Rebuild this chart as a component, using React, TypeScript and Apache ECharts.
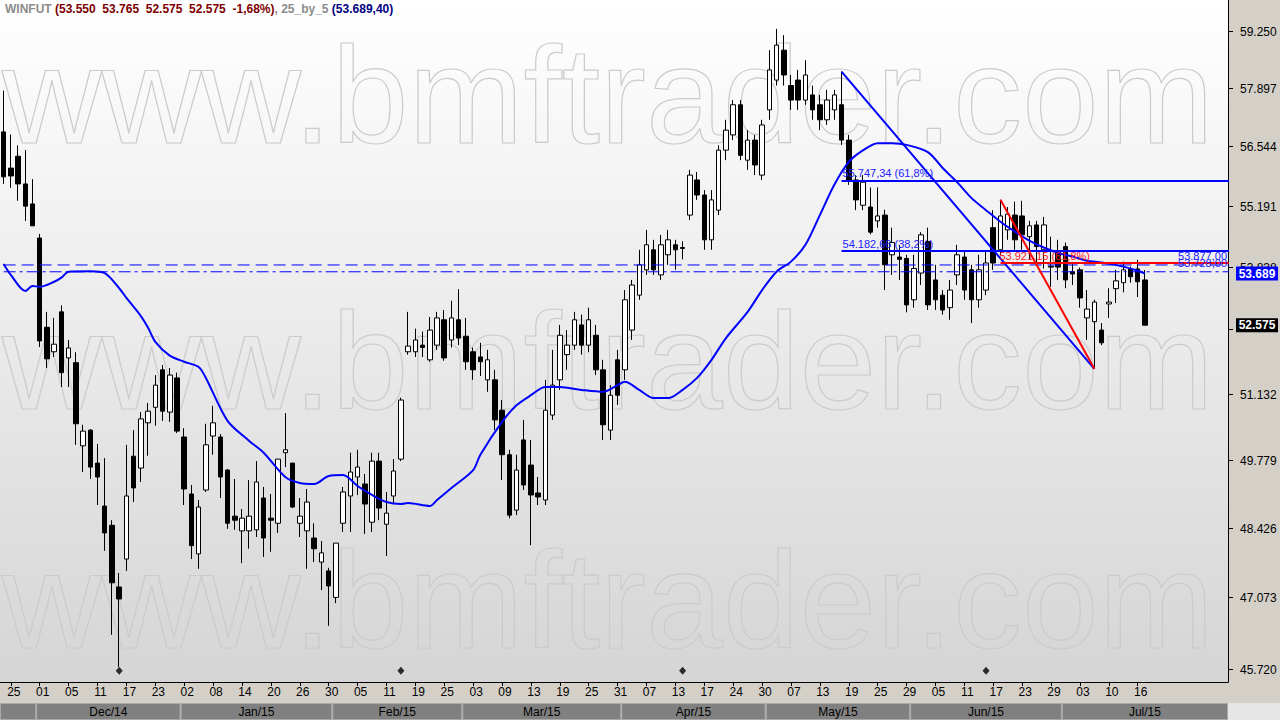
import { useEffect, useRef } from 'react';
import * as echarts from 'echarts';

const FONT = '"Liberation Sans", Arial, sans-serif';

// trading days (Nov 24, 2014 .. Jul 17, 2015)
const dates: string[] = [
  '2014-11-24','2014-11-25','2014-11-26','2014-11-27','2014-11-28',
  '2014-12-01','2014-12-02','2014-12-03','2014-12-04','2014-12-05',
  '2014-12-08','2014-12-09','2014-12-10','2014-12-11','2014-12-12',
  '2014-12-15','2014-12-16','2014-12-17','2014-12-18','2014-12-19',
  '2014-12-22','2014-12-23','2014-12-26','2014-12-29','2014-12-30',
  '2015-01-02','2015-01-05','2015-01-06','2015-01-07','2015-01-08','2015-01-09',
  '2015-01-12','2015-01-13','2015-01-14','2015-01-15','2015-01-16',
  '2015-01-19','2015-01-20','2015-01-21','2015-01-22','2015-01-23',
  '2015-01-26','2015-01-27','2015-01-28','2015-01-29','2015-01-30',
  '2015-02-02','2015-02-03','2015-02-04','2015-02-05','2015-02-06',
  '2015-02-09','2015-02-10','2015-02-11','2015-02-12','2015-02-13',
  '2015-02-18','2015-02-19','2015-02-20',
  '2015-02-23','2015-02-24','2015-02-25','2015-02-26','2015-02-27',
  '2015-03-02','2015-03-03','2015-03-04','2015-03-05','2015-03-06',
  '2015-03-09','2015-03-10','2015-03-11','2015-03-12','2015-03-13',
  '2015-03-16','2015-03-17','2015-03-18','2015-03-19','2015-03-20',
  '2015-03-23','2015-03-24','2015-03-25','2015-03-26','2015-03-27',
  '2015-03-30','2015-03-31',
  '2015-04-01','2015-04-02','2015-04-06','2015-04-07','2015-04-08','2015-04-09','2015-04-10',
  '2015-04-13','2015-04-14','2015-04-15','2015-04-16','2015-04-17',
  '2015-04-20','2015-04-22','2015-04-23','2015-04-24',
  '2015-04-27','2015-04-28','2015-04-29','2015-04-30',
  '2015-05-04','2015-05-05','2015-05-06','2015-05-07','2015-05-08',
  '2015-05-11','2015-05-12','2015-05-13','2015-05-14','2015-05-15',
  '2015-05-18','2015-05-19','2015-05-20','2015-05-21','2015-05-22',
  '2015-05-25','2015-05-26','2015-05-27','2015-05-28','2015-05-29',
  '2015-06-01','2015-06-02','2015-06-03','2015-06-05',
  '2015-06-08','2015-06-09','2015-06-10','2015-06-11','2015-06-12',
  '2015-06-15','2015-06-16','2015-06-17','2015-06-18','2015-06-19',
  '2015-06-22','2015-06-23','2015-06-24','2015-06-25','2015-06-26',
  '2015-06-29','2015-06-30',
  '2015-07-01','2015-07-02','2015-07-03','2015-07-06','2015-07-07','2015-07-08','2015-07-10',
  '2015-07-13','2015-07-14','2015-07-15','2015-07-16','2015-07-17',
];

const opens = [
  56.87,56.04,56.31,55.68,55.23,54.47,52.53,52.01,52.86,51.88,
  51.78,50.06,50.38,49.71,48.85,48.47,47.27,47.81,49.85,49.61,
  50.53,50.85,51.63,50.75,51.46,50.24,49.09,47.91,49.17,50.26,
  50.24,49.57,48.65,48.36,48.36,48.38,49.01,48.61,48.51,49.92,
  49.71,48.51,48.36,48.22,47.75,47.58,47.07,48.51,49.05,49.43,
  49.29,48.53,49.75,48.49,49.05,49.79,52.01,52.01,52.15,51.84,
  52.15,52.69,52.26,52.69,52.34,52.01,51.90,51.42,51.42,50.79,
  49.88,48.77,50.18,49.67,49.11,48.97,50.69,51.42,51.95,52.15,
  52.58,52.15,52.36,51.63,50.38,51.84,51.63,52.47,53.22,53.77,
  54.21,53.66,54.10,54.32,54.26,54.98,55.77,55.43,54.43,55.09,
  56.45,56.80,57.50,56.22,56.68,55.88,57.38,58.08,58.79,57.95,
  58.08,57.61,57.73,57.50,57.15,57.38,57.50,56.68,55.77,55.20,
  55.16,54.85,54.98,54.10,54.05,54.02,53.12,53.70,54.39,53.55,
  53.22,52.95,53.66,54.05,53.77,53.12,53.33,54.70,54.21,54.65,
  54.98,54.96,54.50,54.76,54.21,53.85,54.17,54.28,53.73,53.77,
  52.73,52.65,52.47,53.03,53.36,53.49,53.79,53.79,53.55,
];
const highs = [
  57.83,56.81,56.56,56.45,55.79,54.56,52.86,52.73,53.00,52.26,
  52.00,50.49,50.40,50.10,49.81,48.57,47.54,50.08,50.38,50.75,
  50.94,51.52,51.73,51.67,51.57,50.42,49.27,48.97,50.51,50.88,
  50.30,49.59,49.39,48.79,49.37,49.75,49.23,49.09,49.79,50.73,
  49.71,49.01,49.19,48.51,48.16,47.64,48.12,49.23,49.92,49.98,
  49.49,49.92,49.92,49.13,49.79,51.05,52.86,52.50,52.44,52.75,
  52.86,52.90,53.10,53.35,52.73,52.10,52.20,52.05,51.63,51.00,
  49.98,49.88,50.59,50.18,49.43,51.42,52.05,52.58,52.47,52.86,
  52.80,52.95,52.58,51.84,51.31,52.05,53.33,53.55,54.21,54.65,
  54.43,54.54,54.65,54.43,54.40,56.00,55.95,55.54,55.54,56.56,
  57.15,57.61,57.61,56.91,56.80,57.15,58.79,59.30,59.15,58.20,
  58.32,58.55,57.95,57.73,57.85,57.85,58.28,56.80,55.88,55.88,
  55.60,55.60,55.10,54.70,54.32,54.10,54.10,54.60,54.70,53.88,
  53.33,53.55,54.32,54.20,53.88,54.10,54.20,55.09,55.325,55.16,
  55.28,55.30,54.85,54.85,54.94,54.50,54.43,54.37,53.92,53.82,
  53.33,53.12,52.62,53.37,53.77,53.95,53.84,53.99,53.765,
];
const lows = [
  55.68,55.59,55.30,54.85,54.74,52.11,51.67,51.90,51.27,51.27,
  50.08,49.53,49.39,48.87,47.97,46.36,45.76,47.58,48.93,49.33,
  49.86,50.47,50.57,50.55,50.32,48.87,47.81,47.62,49.13,49.88,
  49.01,48.40,48.38,47.73,48.01,48.24,47.85,47.95,48.32,49.63,
  48.81,48.24,47.62,47.75,47.21,46.53,46.96,48.34,48.34,49.07,
  48.30,48.34,48.57,47.87,48.91,49.75,51.95,51.90,51.90,51.80,
  52.05,51.82,52.10,52.15,51.63,51.42,51.50,51.17,50.38,49.37,
  48.61,48.67,49.17,48.08,48.87,48.87,50.59,51.21,51.63,52.05,
  51.95,52.00,51.52,50.18,50.18,50.90,51.42,52.26,53.12,53.66,
  53.66,53.55,53.88,53.77,54.00,54.87,55.32,54.21,54.21,54.98,
  56.22,56.68,56.22,56.00,55.88,55.77,57.15,57.95,57.95,57.38,
  57.38,57.50,57.15,56.91,57.03,57.15,56.57,55.66,55.09,55.09,
  54.55,54.70,53.33,53.66,53.55,52.85,52.95,53.44,52.90,52.90,
  52.80,52.69,53.44,53.12,52.62,52.95,53.22,53.77,54.10,54.43,
  54.21,54.21,53.99,53.88,53.80,53.40,53.55,53.37,53.44,52.95,
  52.26,51.65,52.15,52.73,53.05,53.28,53.49,53.18,52.575,
];
const closes = [
  55.84,55.86,55.68,55.18,54.74,52.24,51.86,52.17,51.57,52.09,
  50.51,50.36,49.63,49.43,48.32,47.35,47.04,49.05,49.21,50.61,
  50.77,51.31,50.77,51.52,50.36,49.19,48.07,48.83,50.08,50.53,
  49.43,48.51,48.57,48.61,48.65,49.33,48.22,48.57,49.79,49.98,
  48.83,48.65,48.93,48.01,47.93,47.29,48.12,49.13,49.53,49.63,
  48.89,49.75,48.81,48.71,49.55,51.00,52.13,52.26,52.10,52.47,
  52.73,51.88,52.73,52.30,51.80,51.63,51.80,51.84,50.59,49.88,
  48.67,49.57,49.27,49.07,49.03,50.79,51.31,52.36,52.15,52.69,
  52.15,52.69,51.63,50.49,51.10,51.10,53.12,53.44,53.88,54.32,
  53.77,54.32,54.43,54.21,54.24,55.88,55.43,54.43,55.32,56.45,
  56.91,57.50,56.33,56.68,56.11,57.03,58.32,58.91,58.20,57.61,
  57.61,58.20,57.38,57.15,57.61,57.73,56.68,55.77,55.32,55.72,
  54.60,54.96,53.88,54.37,54.00,53.01,53.80,54.54,53.01,53.12,
  52.90,53.33,54.10,53.33,53.12,53.77,53.92,53.92,54.96,55.00,
  54.43,54.54,54.74,54.28,54.76,53.83,53.83,53.55,53.68,53.16,
  52.92,53.07,52.20,53.07,53.53,53.77,53.62,53.51,52.575,
];

// "25_by_5" moving average at these bars
const maIdx = [0,1,3,4,5,7,8,9,12,14,16,17,19,20,21,23,25,27,28,31,34,36,39,41,43,45,47,49,51,53,55,56,59,60,62,65,66,69,71,73,75,77,80,83,85,86,88,90,92,94,96,98,100,103,105,107,109,111,113,115,117,119,121,123,125,128,130,132,134,136,138,140,142,144,146,148,150,152,155,157,158];
const maVals = [53.90,53.66,53.31,53.42,53.40,53.51,53.60,53.73,53.74,53.70,53.37,53.16,52.77,52.52,52.22,51.93,51.80,51.69,51.46,50.57,50.16,49.92,49.43,49.31,49.29,49.45,49.47,49.25,49.07,48.93,48.89,48.91,48.85,48.97,49.21,49.57,49.88,50.55,50.89,51.10,51.27,51.27,51.21,51.17,51.31,51.38,51.21,51.04,51.04,51.21,51.46,51.84,52.30,52.86,53.33,53.73,53.95,54.32,54.98,55.66,56.18,56.45,56.61,56.61,56.57,56.40,56.04,55.72,55.36,55.09,54.83,54.61,54.41,54.26,54.14,54.06,53.97,53.93,53.84,53.75,53.6894];

const yTicks = [45.72, 47.073, 48.426, 49.779, 51.132, 52.485, 53.838, 55.191, 56.544, 57.897, 59.25];
const Y_MIN = 45.48;
const Y_MAX = 60.0;
const PAD_SLOTS = 11;

const markerIdx = [16, 55, 94, 136];
const MARKER_VALUE = 45.69;

// Fibonacci drawings
const fibBlueStart = { idx: 115.6, value: 58.28 };
const fibBlueEnd = { idx: 151, value: 51.65 };
const fibBlueLevels = [55.74734, 54.18266];
const fibBlueLabels = ['55.747,34 (61,8%)', '54.182,66 (38,2%)'];
const fibRedStart = { idx: 138, value: 55.325 };
const fibRedLevel = 53.92115;
const fibRedLabel = '53.921,15 (61,8%)';
const refLevels = [53.877, 53.728];
const refLabels = ['53.877,00', '53.728,00'];

const lastMA = 53.6894;
const lastClose = 52.575;
const MONTHS = ['Jan','Feb','Mar','Apr','May','Jun','Jul','Aug','Sep','Oct','Nov','Dec'];
const WATERMARK = 'www.bmftrader.com';

const fmtTick = (v: number) => {
  const n = Math.round(v * 1000);
  const s = String(n);
  return s.slice(0, s.length - 3) + '.' + s.slice(s.length - 3);
};

export default function App() {
  const ref = useRef<HTMLDivElement>(null);
  useEffect(() => {
    document.body.style.margin = '0';
    const chart = echarts.init(ref.current!, null, { renderer: 'svg' });
    const cats = [...dates, ...Array.from({ length: PAD_SLOTS }, (_, i) => 'pad' + i)];
    const lastSlot = cats.length - 0.5;
    const showIdx = (i: number) => i % 4 === 1 && i < dates.length;
    const candle = dates.map((_, i) => [opens[i], closes[i], lows[i], highs[i]]);
    const hline = (from: number, v: number) => [[from, v], [lastSlot, v]];

    const option: any = {
      animation: false,
      backgroundColor: 'transparent',
      grid: { left: 0, right: 52, top: 0, bottom: 38, containLabel: false },
      xAxis: {
        type: 'category',
        data: cats,
        boundaryGap: true,
        axisLine: { show: true, lineStyle: { color: '#000', width: 1 } },
        axisTick: { show: true, alignWithLabel: true, interval: (i: number) => showIdx(i), length: 4, lineStyle: { color: '#000' } },
        axisLabel: { show: false },
        splitLine: { show: false },
      },
      yAxis: {
        type: 'log', position: 'right', min: Y_MIN, max: Y_MAX,
        axisLine: { show: true, onZero: false, lineStyle: { color: '#000' } },
        axisTick: { show: false }, axisLabel: { show: false }, splitLine: { show: false },
      },
      series: [
        {
          type: 'candlestick', data: candle, barWidth: 5, z: 3,
          itemStyle: { color: '#ffffff', color0: '#000000', borderColor: '#000000', borderColor0: '#000000', borderWidth: 1 },
        },
        {
          type: 'line', data: maIdx.map((i, k) => [i, maVals[k]]), smooth: 0.3, showSymbol: false, symbol: 'none',
          lineStyle: { color: '#0000ff', width: 2 }, z: 4,
        },
        {
          type: 'line', data: hline(-0.5, refLevels[0]), symbol: 'none', lineStyle: { color: '#0000ff', width: 1, type: [12, 6] }, z: 4,
        },
        {
          type: 'line', data: hline(-0.5, refLevels[1]), symbol: 'none', lineStyle: { color: '#0000ff', width: 1, type: [12, 4, 3, 4] }, z: 4,
        },
        {
          type: 'line', data: [[fibBlueStart.idx, fibBlueStart.value], [fibBlueEnd.idx, fibBlueEnd.value]], symbol: 'none',
          lineStyle: { color: '#0000ff', width: 2 }, z: 5,
        },
        ...fibBlueLevels.map((lv) => ({
          type: 'line', data: hline(fibBlueStart.idx, lv), symbol: 'none', lineStyle: { color: '#0000ff', width: 2 }, z: 5,
        })),
        {
          type: 'line', data: [[fibRedStart.idx, fibRedStart.value], [fibBlueEnd.idx, fibBlueEnd.value]], symbol: 'none',
          lineStyle: { color: '#ff0000', width: 2 }, z: 6,
        },
        {
          type: 'line', data: hline(fibRedStart.idx, fibRedLevel), symbol: 'none', lineStyle: { color: '#ff0000', width: 2 }, z: 6,
        },
        {
          type: 'scatter', data: markerIdx.map((i) => [i, MARKER_VALUE]), symbol: 'diamond', symbolSize: [7, 8],
          itemStyle: { color: '#000' }, z: 6,
        },
      ],
    };
    chart.setOption(option);

    const px = (i: number) => chart.convertToPixel({ xAxisIndex: 0 }, i) as unknown as number;
    const py = (v: number) => chart.convertToPixel({ yAxisIndex: 0 }, v) as unknown as number;
    const band = px(1) - px(0);
    const plotRight = 1228;
    const g: any[] = [];

    // watermark
    [95, 361, 600].forEach((y) => {
      g.push({
        type: 'text', x: 2, y, z: -5, silent: true,
        style: { text: WATERMARK, font: '138px ' + FONT, fill: 'rgba(255,255,255,0)', stroke: '#cbcbcb', lineWidth: 1.2, verticalAlign: 'middle', align: 'left' },
      });
    });
    // right panel & bottom rows
    g.push({ type: 'rect', z: -10, shape: { x: plotRight, y: 0, width: 1280 - plotRight, height: 703 }, style: { fill: '#d4d0c8' } });
    g.push({ type: 'rect', z: -10, shape: { x: 0, y: 682, width: plotRight, height: 21 }, style: { fill: '#d4d0c8' } });
    g.push({ type: 'rect', z: -10, shape: { x: plotRight, y: 703, width: 1280 - plotRight, height: 17 }, style: { fill: '#e6e6e6' } });

    // day labels
    dates.forEach((d, i) => {
      if (!showIdx(i)) return;
      g.push({ type: 'text', z: 10, x: px(i) + 3, y: 692, style: { text: d.slice(8, 10), font: '12px ' + FONT, fill: '#000', align: 'center', verticalAlign: 'middle' } });
    });

    // month row
    const starts: { idx: number; label: string }[] = [];
    dates.forEach((d, i) => {
      const m = d.slice(0, 7);
      if (i === 0 || m !== dates[i - 1].slice(0, 7)) {
        starts.push({ idx: i, label: i === 0 ? '' : MONTHS[Number(d.slice(5, 7)) - 1] + '/' + d.slice(2, 4) });
      }
    });
    starts.forEach((s, k) => {
      const x0 = s.idx === 0 ? 0 : px(s.idx) - band / 2;
      const x1 = k + 1 < starts.length ? px(starts[k + 1].idx) - band / 2 : plotRight;
      g.push({ type: 'rect', z: -9, shape: { x: x0 + 0.5, y: 703.5, width: x1 - x0 - 1, height: 16 }, style: { fill: '#808080', stroke: '#a9a9a9', lineWidth: 1 } });
      if (s.label) {
        g.push({ type: 'text', z: 10, x: (x0 + x1) / 2, y: 712, style: { text: s.label, font: '12px ' + FONT, fill: '#000', align: 'center', verticalAlign: 'middle' } });
      }
    });

    // y-axis ticks & labels (a label fully hidden under a last-value box is not drawn)
    const boxYs = [py(lastMA), py(lastClose)];
    yTicks.forEach((v) => {
      const yy = py(v);
      const y = Math.round(yy) + 0.5;
      g.push({ type: 'line', z: 10, shape: { x1: plotRight, y1: y, x2: plotRight + 5, y2: y }, style: { stroke: '#000', lineWidth: 1 } });
      if (boxYs.some((b) => Math.abs(b - yy) < 5)) return;
      g.push({ type: 'text', z: 10, x: plotRight + 12, y, style: { text: fmtTick(v), font: '12px ' + FONT, fill: '#000', align: 'left', verticalAlign: 'middle' } });
    });

    // last value boxes
    const box = (v: number, bg: string) => {
      const y = py(v);
      g.push({ type: 'rect', z: 20, shape: { x: plotRight + 8, y: y - 7, width: 42, height: 14 }, style: { fill: bg } });
      g.push({ type: 'text', z: 21, x: plotRight + 29, y, style: { text: fmtTick(v), font: 'bold 12px ' + FONT, fill: '#fff', align: 'center', verticalAlign: 'middle' } });
    };
    box(lastMA, '#0000ff');
    box(lastClose, '#000000');

    // drawing labels
    fibBlueLevels.forEach((lv, k) => {
      g.push({ type: 'text', z: 20, x: px(fibBlueStart.idx) + 1, y: py(lv) - 2, style: { text: fibBlueLabels[k], font: '11px ' + FONT, fill: '#2222ff', align: 'left', verticalAlign: 'bottom' } });
    });
    g.push({ type: 'text', z: 20, x: px(fibRedStart.idx) - 1, y: py(fibRedLevel) - 1, style: { text: fibRedLabel, font: '11px ' + FONT, fill: '#ff2020', align: 'left', verticalAlign: 'bottom' } });
    refLevels.forEach((lv, k) => {
      g.push({ type: 'text', z: 20, x: plotRight - 1, y: py(lv) - 3, style: { text: refLabels[k], font: '11px ' + FONT, fill: '#2222ff', align: 'right', verticalAlign: 'bottom' } });
    });

    // title
    g.push({
      type: 'text', z: 30, x: 5, y: 3,
      style: {
        text: '{g|WINFUT }{r|(53.550  53.765  52.575  52.575  -1,68%)}{g|, 25_by_5 }{b|(53.689,40)}',
        font: 'bold 12px ' + FONT, align: 'left', verticalAlign: 'top',
        rich: {
          g: { fill: '#8c8c8c', font: 'bold 12px ' + FONT },
          r: { fill: '#800000', font: 'bold 12px ' + FONT },
          b: { fill: '#000080', font: 'bold 12px ' + FONT },
        },
      },
    });

    chart.setOption({ graphic: { elements: g } });
    return () => chart.dispose();
  }, []);

  return (
    <div
      ref={ref}
      style={{
        position: 'fixed', left: 0, top: 0, width: 1280, height: 720,
        background: 'linear-gradient(to bottom, #ffffff 0px, #d5d5d5 682px, #d5d5d5 720px)',
      }}
    />
  );
}
